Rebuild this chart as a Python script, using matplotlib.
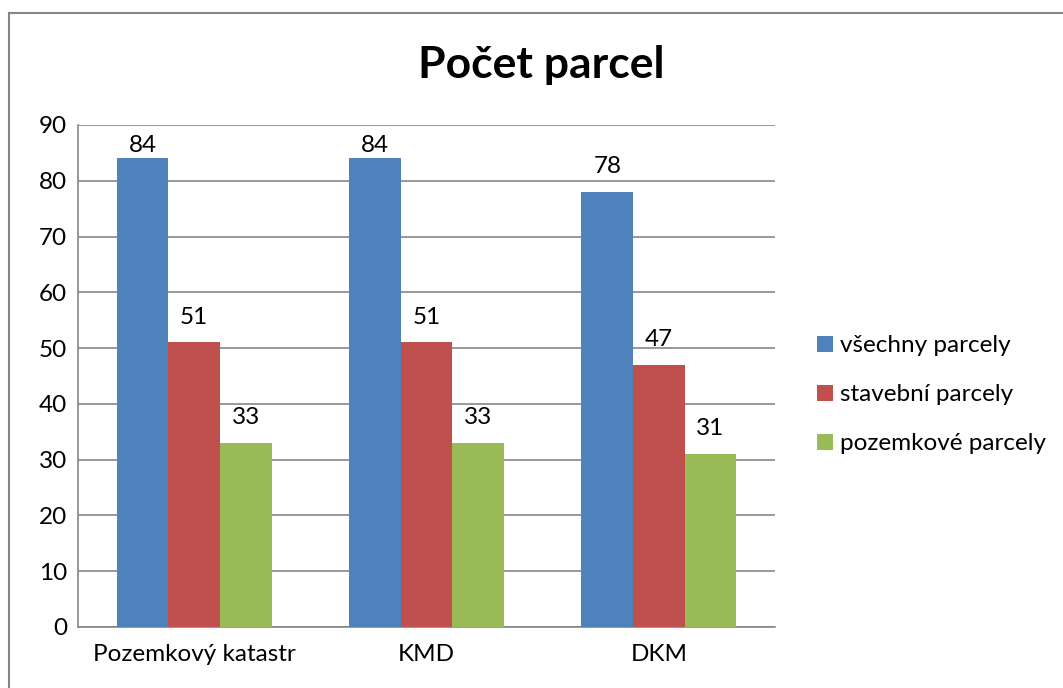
import matplotlib.pyplot as plt
import numpy as np
from matplotlib.lines import Line2D

# Data
categories = ["Pozemkový katastr", "KMD", "DKM"]
series_names = ["všechny parcely", "stavební parcely", "pozemkové parcely"]
vsechny = [84, 84, 78]
stavebni = [51, 51, 47]
pozemkove = [33, 33, 31]
yticks = [0, 10, 20, 30, 40, 50, 60, 70, 80, 90]

colors = ["#4F81BD", "#C0504D", "#9BBB59"]
plt.rcParams["font.family"] = ["Lato", "DejaVu Sans"]
fs = 17.5

fig = plt.figure(figsize=(10.63, 6.88), dpi=100)
ax = fig.add_axes([0.0734, 0.0887, 0.6557, 0.7297])

x = np.arange(len(categories))
w = 0.222
for i, vals in enumerate([vsechny, stavebni, pozemkove]):
    ax.bar(x + (i - 1) * w, vals, w, color=colors[i], label=series_names[i], zorder=3)
    # data labels sit a bit above the bar, but are kept inside the plot area
    for xi, v in zip(x + (i - 1) * w, vals):
        ax.text(xi, min(v + 3.4, 85.1), str(v), ha="center", va="baseline",
                fontsize=fs, color="black", zorder=4)

ax.set_xlim(-0.5, 2.5)
ax.set_ylim(0, 90)
ax.set_yticks(yticks)
ax.set_xticks(x)
ax.set_xticklabels(categories)
ax.tick_params(axis="both", length=0, labelsize=fs, colors="black")
ax.tick_params(axis="y", pad=8)
ax.tick_params(axis="x", pad=12)
ax.yaxis.grid(True, color="#868686", linewidth=1.2, zorder=0)
for side in ["top", "right"]:
    ax.spines[side].set_visible(False)
for side in ["left", "bottom"]:
    ax.spines[side].set_color("#868686")
    ax.spines[side].set_linewidth(1.2)

fig.text(0.509, 0.9055, "Počet parcel", ha="center", va="center", fontsize=32, fontweight="bold")

ax.legend(loc="center left", bbox_to_anchor=(0.7686, 0.426), bbox_transform=fig.transFigure,
          frameon=False, fontsize=fs, handlelength=0.66, handleheight=0.66,
          handletextpad=0.3, labelspacing=1.15, borderpad=0, borderaxespad=0)

# outer chart border (left and top visible)
fig.add_artist(Line2D([9 / 1063, 9 / 1063], [0, 1 - 13 / 688], transform=fig.transFigure,
                      color="#868686", linewidth=1.5))
fig.add_artist(Line2D([9 / 1063, 1], [1 - 13 / 688, 1 - 13 / 688], transform=fig.transFigure,
                      color="#868686", linewidth=1.5))

fig.savefig("out.png", dpi=100)
